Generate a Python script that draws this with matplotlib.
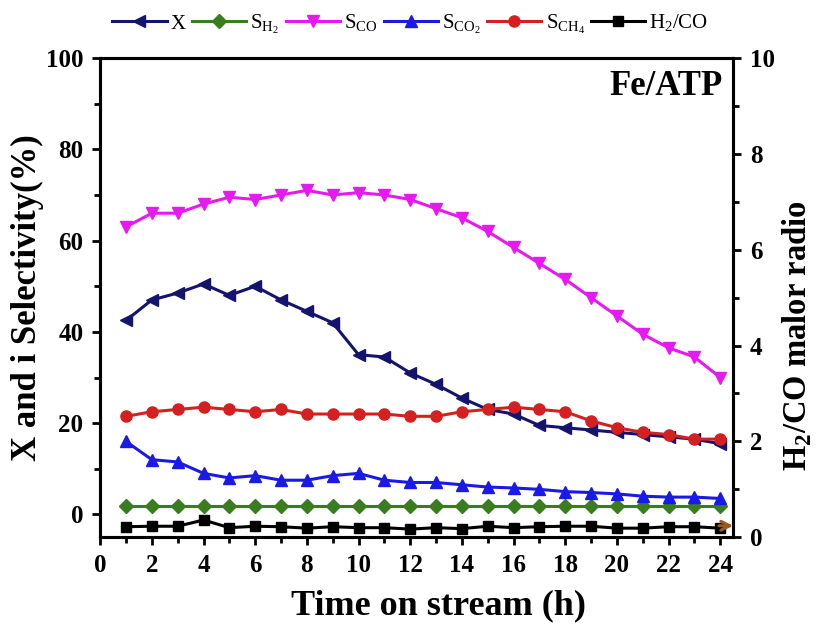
import numpy as np
import matplotlib.pyplot as plt
from matplotlib.ticker import MultipleLocator

plt.rcParams['font.family'] = ['Liberation Serif', 'DejaVu Serif']
plt.rcParams['mathtext.fontset'] = 'custom'
plt.rcParams['mathtext.rm'] = 'Liberation Serif'
plt.rcParams['mathtext.bf'] = 'Liberation Serif:bold'

# time on stream (h)
t = np.arange(1, 25)

# left axis series (%)
x_conv = [42.5, 47, 48.5, 50.5, 48, 50, 47, 44.5, 42, 35, 34.5, 31,
          28.5, 25.5, 23, 22, 19.5, 19, 18.5, 18, 17.5, 17, 16.5, 15.5]
s_h2 = [1.8] * 24
s_co = [63, 66, 66, 68, 69.5, 69, 70, 71, 70, 70.5, 70, 69,
        67, 65, 62, 58.5, 55, 51.5, 47.5, 43.5, 39.5, 36.5, 34.5, 30]
s_co2 = [16, 12, 11.5, 9, 8, 8.5, 7.5, 7.5, 8.5, 9, 7.5, 7,
         7, 6.5, 6, 5.8, 5.5, 5, 4.8, 4.5, 4, 3.8, 3.8, 3.5]
s_ch4 = [21.5, 22.5, 23, 23.5, 23, 22.5, 23, 22, 22, 22, 22, 21.5,
         21.5, 22.5, 23, 23.5, 23, 22.5, 20.5, 19, 18, 17.5, 16.5, 16.5]

# right axis series (H2/CO ratio)
h2_co = [0.22, 0.23, 0.23, 0.36, 0.2, 0.23, 0.22, 0.19, 0.22, 0.2, 0.2, 0.17,
         0.2, 0.18, 0.23, 0.2, 0.22, 0.23, 0.23, 0.19, 0.19, 0.22, 0.22, 0.19]

fig = plt.figure(figsize=(8.21, 6.24), dpi=100)
ax = fig.add_axes([0.122, 0.139, 0.771, 0.768])
ax2 = ax.twinx()

lw = 2.2
ms = 8
l1, = ax.plot(t, x_conv, '-', marker='<', color='#14146e', lw=lw, ms=ms, label='X')
l2, = ax.plot(t, s_h2, '-', marker='D', color='#3a7d1e', lw=lw, ms=7, label=r'S$_{\mathregular{H_2}}$')
l3, = ax.plot(t, s_co, '-', marker='v', color='#e619f0', lw=lw, ms=ms, label=r'S$_{\mathregular{CO}}$')
l4, = ax.plot(t, s_co2, '-', marker='^', color='#1a1ae6', lw=lw, ms=ms, label=r'S$_{\mathregular{CO_2}}$')
l5, = ax.plot(t, s_ch4, '-', marker='o', color='#d42020', lw=lw, ms=ms, label=r'S$_{\mathregular{CH_4}}$')
l6, = ax2.plot(t, h2_co, '-', marker='s', color='black', lw=lw, ms=7, label=r'H$_{\mathregular{2}}$/CO')

ax.set_xlim(0, 24.5)
ax.set_ylim(-5, 100)
ax2.set_ylim(0, 10)

ax.xaxis.set_major_locator(MultipleLocator(2))
ax.xaxis.set_minor_locator(MultipleLocator(1))
ax.set_yticks([0, 20, 40, 60, 80, 100])
ax.yaxis.set_minor_locator(MultipleLocator(10))
ax2.yaxis.set_major_locator(MultipleLocator(2))
ax2.yaxis.set_minor_locator(MultipleLocator(1))

for a in (ax, ax2):
    a.tick_params(which='major', direction='out', length=6, width=2, labelsize=18, pad=6)
    a.tick_params(which='minor', direction='out', length=4, width=2)
    for s in a.spines.values():
        s.set_linewidth(2.2)
    for lab in a.get_xticklabels() + a.get_yticklabels():
        lab.set_fontweight('bold')

ax.set_xlabel('Time on stream (h)', fontsize=26, fontweight='bold')
ax.xaxis.set_label_coords(0.534, -0.108)
ax.set_ylabel('X and i Selectivity(%)', fontsize=25, fontweight='bold')
ax.yaxis.set_label_coords(-0.088, 0.5)
ax2.set_ylabel(r'H$_{\mathregular{2}}$/CO malor radio', fontsize=23.5, fontweight='bold')
ax2.yaxis.set_label_coords(1.074, 0.42)

ax.text(0.983, 0.975, 'Fe/ATP', transform=ax.transAxes, ha='right', va='top',
        fontsize=25, fontweight='bold')

# arrow pointing to the right axis
ax2.annotate('', xy=(24.5, h2_co[-1] + 0.05), xytext=(23.95, h2_co[-1] + 0.05),
             arrowprops=dict(arrowstyle='->', color='#9c5a1c', lw=2.2,
                             shrinkA=0, shrinkB=0, mutation_scale=16),
             annotation_clip=False, zorder=10)

fig.legend(handles=[l1, l2, l3, l4, l5, l6], loc='upper center', ncol=6,
           bbox_to_anchor=(0.5, 1.01), frameon=False, fontsize=15,
           handlelength=2.6, handletextpad=0.2, columnspacing=0.3)

fig.savefig('out.png', dpi=100)
